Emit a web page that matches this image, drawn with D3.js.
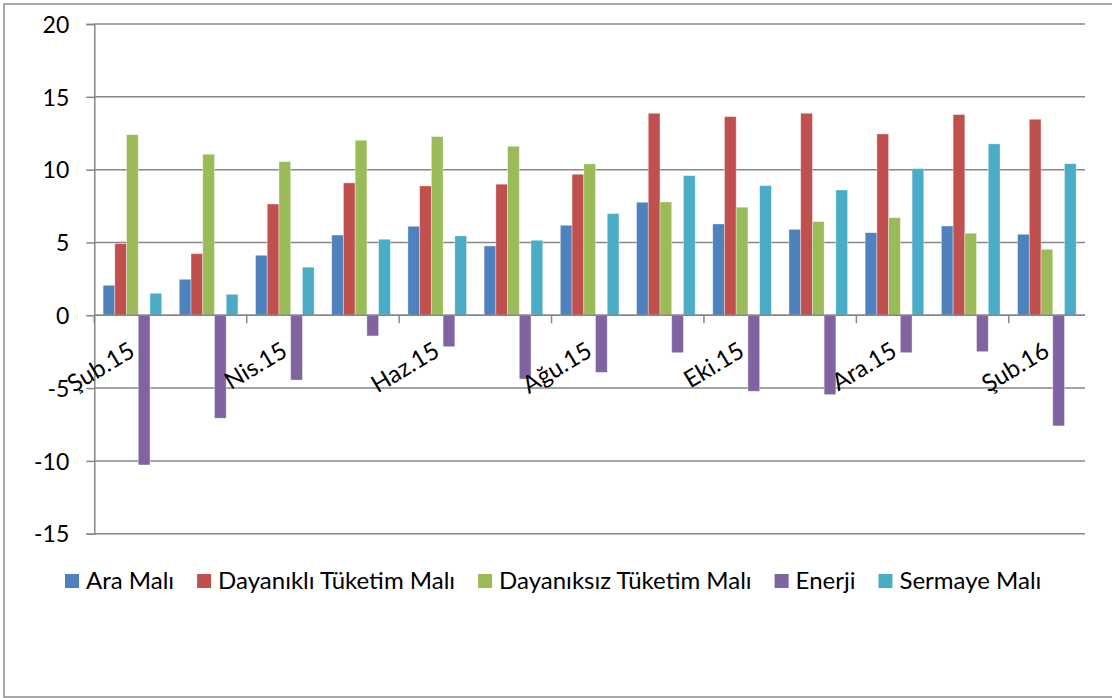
<!DOCTYPE html>
<html>
<head>
<meta charset="utf-8">
<script src="https://cdn.jsdelivr.net/npm/d3@7"></script>
<style>
  body { margin: 0; background: #fff; }
  svg { display: block; font-family: Lato, 'Noto Sans', sans-serif; }
</style>
</head>
<body>
<svg id="chart" width="1112" height="698"></svg>
<script>
const categories = ["Şub.15", "Mar.15", "Nis.15", "May.15", "Haz.15", "Tem.15", "Ağu.15",
                    "Eyl.15", "Eki.15", "Kas.15", "Ara.15", "Oca.16", "Şub.16"];
const seriesNames = ["Ara Malı", "Dayanıklı Tüketim Malı", "Dayanıksız Tüketim Malı", "Enerji", "Sermaye Malı"];
const araMali    = [2.06, 2.47, 4.12, 5.51, 6.11, 4.76, 6.18, 7.76, 6.27, 5.90, 5.67, 6.13, 5.56];
const dayanikli  = [4.92, 4.23, 7.64, 9.09, 8.88, 9.00, 9.68, 13.87, 13.64, 13.87, 12.45, 13.78, 13.46];
const dayaniksiz = [12.40, 11.06, 10.55, 12.02, 12.27, 11.60, 10.39, 7.78, 7.42, 6.43, 6.70, 5.63, 4.53];
const enerji     = [-10.28, -7.07, -4.45, -1.42, -2.16, -4.38, -3.92, -2.57, -5.22, -5.45, -2.57, -2.50, -7.60];
const sermaye    = [1.51, 1.44, 3.30, 5.22, 5.45, 5.15, 6.98, 9.59, 8.90, 8.60, 10.07, 11.77, 10.41];
const yTicks = [-15, -10, -5, 0, 5, 10, 15, 20];

const seriesValues = [araMali, dayanikli, dayaniksiz, enerji, sermaye];
const colors = ["#4F81BD", "#C0504D", "#9BBB59", "#8064A2", "#4BACC6"];
const gridColor = "#878787";
const fontSize = '23px';

const svg = d3.select('#chart');

// outer frame
svg.append('rect')
  .attr('x', 4).attr('y', 4)
  .attr('width', 1130).attr('height', 693)
  .attr('fill', 'none')
  .attr('stroke', '#8c8c8c')
  .attr('stroke-width', 1.5);

const plot = {left: 94.3, right: 1085, top: 24, bottom: 533.7};

const x0 = d3.scaleBand().domain(categories).range([plot.left, plot.right]).padding(0);
const x1 = d3.scaleBand().domain(seriesNames).range([0, x0.bandwidth()]).paddingInner(0).paddingOuter(0.75);
const y = d3.scaleLinear().domain([-15, 20]).range([plot.bottom, plot.top]);

// gridlines
svg.append('g')
  .selectAll('line')
  .data(yTicks)
  .enter().append('line')
  .attr('x1', plot.left).attr('x2', plot.right)
  .attr('y1', d => y(d)).attr('y2', d => y(d))
  .attr('stroke', gridColor)
  .attr('stroke-width', 1.5);

// bars
const rows = categories.map((c, i) => ({cat: c, vals: seriesValues.map((s, j) => ({name: seriesNames[j], v: s[i], j: j}))}));

const groups = svg.append('g').selectAll('g')
  .data(rows)
  .enter().append('g')
  .attr('transform', d => 'translate(' + x0(d.cat) + ',0)');

groups.selectAll('rect')
  .data(d => d.vals)
  .enter().append('rect')
  .attr('x', d => x1(d.name))
  .attr('width', x1.bandwidth())
  .attr('y', d => y(Math.max(0, d.v)))
  .attr('height', d => Math.abs(y(d.v) - y(0)))
  .attr('fill', d => colors[d.j])
  .attr('stroke', 'rgba(255,255,255,0.45)')
  .attr('stroke-width', 0.8);

// y axis
const yAxis = d3.axisLeft(y).tickValues(yTicks).tickSize(8).tickPadding(17).tickFormat(d => String(d));
const gy = svg.append('g')
  .attr('transform', 'translate(' + plot.left + ',0)')
  .call(yAxis)
  .attr('font-family', null);
gy.select('.domain').attr('stroke', gridColor).attr('stroke-width', 1.5);
gy.selectAll('.tick line').attr('stroke', gridColor).attr('stroke-width', 1.5);
gy.selectAll('.tick text')
  .style('font-size', fontSize)
  .attr('fill', '#000')
  .attr('dy', '0.36em');

// x axis at zero, ticks every two categories
const xAxis = d3.axisBottom(x0)
  .tickValues(categories.filter((c, i) => i % 2 === 0))
  .tickSize(8)
  .tickFormat('');
const gx = svg.append('g')
  .attr('transform', 'translate(0,' + y(0) + ')')
  .call(xAxis);
gx.select('.domain').attr('d', 'M' + plot.left + ',0H' + plot.right).attr('stroke', gridColor).attr('stroke-width', 1.5);
gx.selectAll('.tick')
  .attr('transform', d => 'translate(' + x0(d) + ',0)');
gx.selectAll('.tick line').attr('stroke', gridColor).attr('stroke-width', 1.5);

// rotated category labels
svg.append('g')
  .selectAll('text')
  .data(categories.filter((c, i) => i % 2 === 0))
  .enter().append('text')
  .attr('transform', d => 'translate(' + (x0(d) + x0.bandwidth() / 2 + 4) + ',' + (y(0) + 40) + ') rotate(-31)')
  .attr('text-anchor', 'end')
  .style('font-size', '24px')
  .attr('fill', '#000')
  .text(d => d);

// legend
const legend = svg.append('g').attr('transform', 'translate(65,581)');
let lx = 0;
seriesNames.forEach((name, i) => {
  const item = legend.append('g').attr('transform', 'translate(' + lx + ',0)');
  item.append('rect')
    .attr('x', 0).attr('y', -7)
    .attr('width', 14).attr('height', 14)
    .attr('fill', colors[i]);
  const t = item.append('text')
    .attr('x', 21).attr('y', 0).attr('dy', '0.35em')
    .style('font-size', '24px')
    .attr('fill', '#000')
    .text(name);
  lx += 21 + t.node().getComputedTextLength() + 23;
});
</script>
</body>
</html>
